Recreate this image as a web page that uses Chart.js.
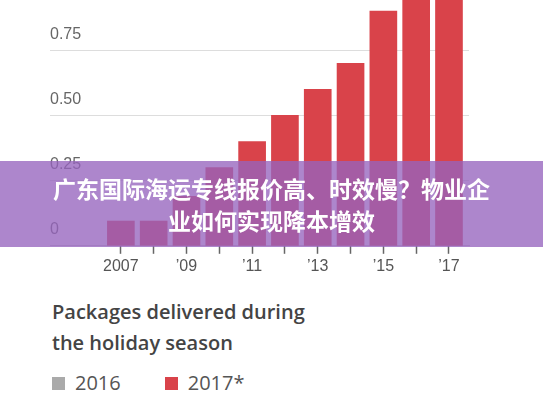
<!DOCTYPE html>
<html><head><meta charset="utf-8">
<script src="https://cdn.jsdelivr.net/npm/chart.js@4"></script>
<style>
body{margin:0;width:543px;height:408px;background:#fff;position:relative;overflow:hidden;font-family:"Open Sans",sans-serif}
#wrap{position:absolute;left:0;top:0;width:543px;height:279px}
#banner{position:absolute;left:0;top:161px;width:543px;height:86px;background:rgba(150,100,190,0.78);color:#fff;font-family:"Noto Sans CJK SC";font-weight:700;font-size:23px;line-height:32px;text-align:center;padding-top:11px;box-sizing:border-box}
#title{position:absolute;left:52px;top:296px;color:#444;font-size:20px;font-weight:600;line-height:31px}
#legend{position:absolute;left:52px;top:369px;color:#555;font-size:20px}
.sq{display:inline-block;width:13px;height:13px;margin-right:10px;vertical-align:0}
</style></head><body>
<div id="wrap"><canvas id="c"></canvas></div>
<div id="banner">广东国际海运专线报价高、时效慢？物业企<br>业如何实现降本增效</div>
<div id="title">Packages delivered during<br>the holiday season</div>
<div id="legend"><span class="sq" style="background:#aaa"></span>2016<span style="display:inline-block;width:44px"></span><span class="sq" style="background:#d9434a"></span>2017*</div>
<script>
const years=[2007,2008,2009,2010,2011,2012,2013,2014,2015,2016,2017];
const values=[0.095,0.095,0.19,0.30,0.40,0.50,0.60,0.70,0.90,1.0,1.0];
const yTicks=[0,0.25,0.5,0.75];
const xLabels={2007:'2007',2009:'’09',2011:'’11',2013:'’13',2015:'’15',2017:'’17'};
new Chart(document.getElementById('c'),{
 type:'bar',
 data:{datasets:[{data:years.map((y,i)=>({x:y,y:values[i]})),backgroundColor:'#d9434a',barThickness:27,clip:false}]},
 options:{responsive:true,maintainAspectRatio:false,animation:false,
  layout:{padding:{left:50,right:74,top:0,bottom:0}},
  plugins:{legend:{display:false},tooltip:{enabled:false}},
  scales:{
   x:{type:'linear',offset:false,min:2004.84,max:2017.61,
     afterBuildTicks:a=>{a.ticks=years.map(v=>({value:v}));},
     grid:{display:true,drawOnChartArea:false,tickLength:8,color:'#666',tickWidth:1.5,offset:false},
     border:{display:true,color:'#ccc',width:1},
     ticks:{padding:3,color:'#555',font:{size:16},callback:v=>xLabels[v]||'',maxRotation:0,autoSkip:false}},
   y:{min:0,max:0.906,
     afterBuildTicks:a=>{a.ticks=yTicks.map(v=>({value:v}));},
     grid:{color:'#ddd',drawTicks:false},border:{display:false},
     ticks:{mirror:true,padding:0,labelOffset:-16,color:'#666',font:{size:16},callback:v=>v===0?'0':v.toFixed(2)}}
  }}
});
</script>
</body></html>
